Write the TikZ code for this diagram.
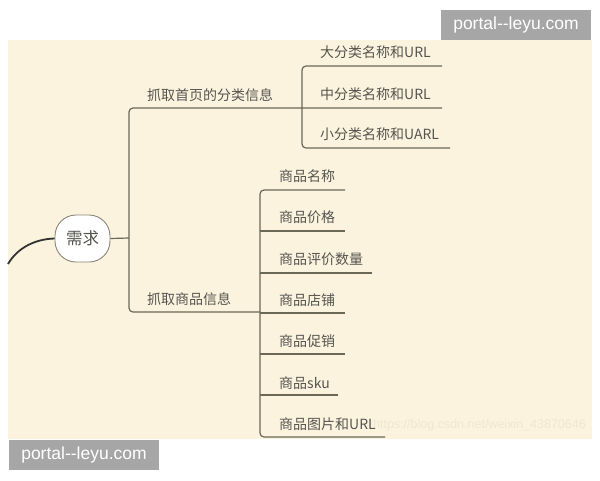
\documentclass[tikz,border=0pt]{standalone}
\usepackage{fontspec}
\setmainfont{Liberation Sans}
\newfontfamily\cjk{Noto Sans CJK SC}
\newfontfamily\wmfont{Liberation Sans}
\definecolor{bg}{HTML}{FCF3DE}
\definecolor{ln}{HTML}{6B6858}
\definecolor{tx}{HTML}{555550}
\definecolor{wm}{HTML}{A6A6A6}
\definecolor{faint}{HTML}{EFE7D3}
\tikzset{
  conn/.style={draw=ln, line width=1.2pt, rounded corners=4pt},
  lbl/.style={anchor=west, inner sep=0pt, text=tx, font=\cjk\fontsize{14}{15}\selectfont},
  rootbox/.style={draw=ln!80, line width=0.9pt, fill=white, rounded corners=21pt,
    minimum width=55pt, minimum height=47pt, inner sep=0pt, text=tx,
    font=\cjk\fontsize{16.5}{17}\selectfont},
  wmbox/.style={fill=wm, text=white, inner sep=0pt, minimum width=150pt, minimum height=30pt,
    font=\wmfont\fontsize{17.5}{19}\selectfont}
}
\begin{document}
\begin{tikzpicture}[x=1pt,y=-1pt]
\useasboundingbox (0,0) rectangle (600,480);
\fill[white] (0,0) rectangle (600,480);
\fill[bg] (8,40) rectangle (592,439);
% faint watermark
\node[anchor=east, inner sep=0pt, text=faint, font=\wmfont\fontsize{12.5}{13}\selectfont] (csdn) at (586,425) {https://blog.csdn.net/weixin\_43870646};
% curve to root
\coordinate (lft) at (8,264);
\node[rootbox] (root) at (82.5,238.5) {需求};
\draw[draw=black!80, line width=1.8pt] (lft) .. controls (18,247) and (36,239) .. (root.west);
% level 1
\coordinate (j0) at (129,238);
\node[lbl] (b1) at (147,95) {抓取首页的分类信息};
\node[lbl] (b2) at (147,299.5) {抓取商品信息};
\coordinate (c2e) at (442,108);
\coordinate (b2e) at (260,312);
\draw[conn] (root.east) -- (j0);
\draw[conn] (c2e) -- (129,108) -- (129,312) -- (b2e);
% level 2a
\node[lbl] (c1) at (320,52) {大分类名称和URL};
\node[lbl] (c2) at (320,94) {中分类名称和URL};
\node[lbl] (c3) at (320,134.5) {小分类名称和UARL};
\coordinate (c1e) at (442,66);
\coordinate (c3e) at (450,148);
\draw[conn] (c1e) -- (302,66) -- (302,148) -- (c3e);
% level 2b
\node[lbl] (d1) at (279,176) {商品名称};
\node[lbl] (d2) at (279,217.5) {商品价格};
\node[lbl] (d3) at (279,259) {商品评价数量};
\node[lbl] (d4) at (279,300) {商品店铺};
\node[lbl] (d5) at (279,341.5) {商品促销};
\node[lbl] (d6) at (279,383) {商品sku};
\node[lbl] (d7) at (279,424) {商品图片和URL};
\coordinate (d1e) at (345,190);
\coordinate (d2e) at (345,231);
\coordinate (d3e) at (372,273);
\coordinate (d4e) at (345,313);
\coordinate (d5e) at (345,354);
\coordinate (d6e) at (338,395);
\coordinate (d7e) at (385,437);
\draw[conn] (d1e) -- (260,190) -- (260,437) -- (d7e);
\draw[conn] (260,231) -- (d2e);
\draw[conn] (260,273) -- (d3e);
\draw[conn] (260,313) -- (d4e);
\draw[conn] (260,354) -- (d5e);
\draw[conn] (260,395) -- (d6e);
% watermarks
\node[wmbox] (wm1) at (516,25) {portal--leyu.com};
\node[wmbox] (wm2) at (84,455) {portal--leyu.com};
\end{tikzpicture}
\end{document}
